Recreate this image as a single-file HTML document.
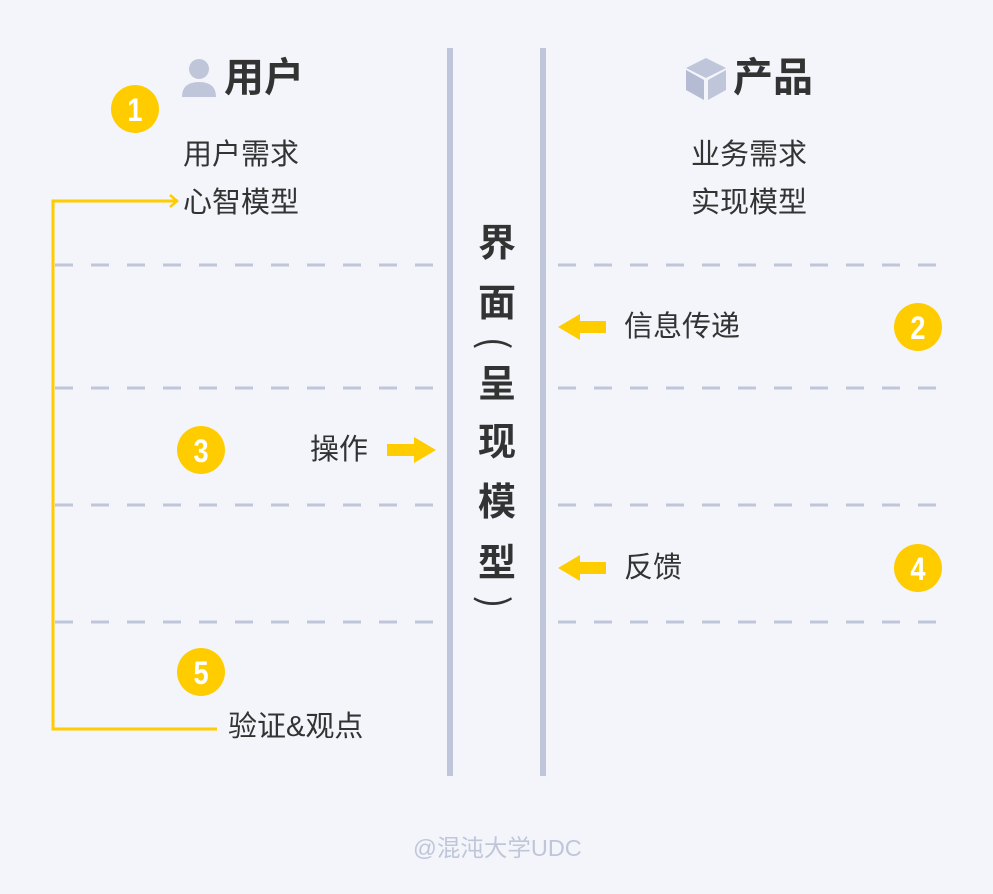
<!DOCTYPE html>
<html><head><meta charset="utf-8"><style>
body{margin:0;width:993px;height:894px;background:#f3f5fa;position:relative;overflow:hidden;font-family:"Liberation Sans","Noto Sans CJK SC",sans-serif;color:#333}
.t{position:absolute;font-size:29px;line-height:32px;white-space:nowrap;color:#333}
.v{position:absolute;left:477px;width:40px;text-align:center;font-size:38px;font-weight:bold;line-height:40px;color:#333}
.p{position:absolute;left:477px;width:40px;text-align:center;font-size:38px;line-height:40px;color:#333;font-family:"Noto Sans CJK SC",sans-serif;transform:rotate(90deg)}
.h{position:absolute;font-size:40px;font-weight:bold;line-height:44px;color:#333}
</style></head><body>
<svg width="993" height="894" style="position:absolute;left:0;top:0">
<g stroke="#c0c6da" stroke-width="3" stroke-dasharray="18 18">
<line x1="55" y1="265" x2="434" y2="265"/><line x1="55" y1="388" x2="434" y2="388"/><line x1="55" y1="505" x2="434" y2="505"/><line x1="55" y1="622" x2="434" y2="622"/>
<line x1="558" y1="265" x2="937" y2="265"/><line x1="558" y1="388" x2="937" y2="388"/><line x1="558" y1="505" x2="937" y2="505"/><line x1="558" y1="622" x2="937" y2="622"/>
</g>
<rect x="447" y="48" width="6" height="728" fill="#c0c6da"/>
<rect x="540" y="48" width="6" height="728" fill="#c0c6da"/>
<g fill="#ffcc00">
<circle cx="135" cy="109" r="24"/><circle cx="918" cy="327" r="24"/><circle cx="201" cy="450" r="24"/><circle cx="918" cy="568" r="24"/><circle cx="201" cy="672" r="24"/>
<polygon points="558,327 580,314 580,321 606,321 606,333 580,333 580,340"/>
<polygon points="558,568 580,555 580,562 606,562 606,574 580,574 580,581"/>
<polygon points="436,450 414,437 414,444 387,444 387,456 414,456 414,463"/>
</g>
<g fill="none" stroke="#ffcc00" stroke-width="3">
<polyline points="178,201 53,201 53,729 217,729"/>
<polyline points="170,195 177,201 170,207" stroke-width="2.5"/>
</g>
<g fill="#fff" font-family="Liberation Sans,sans-serif" font-weight="bold" font-size="32" text-anchor="middle" transform="scale(0.85,1)">
<text x="158.8" y="121">1</text><text x="1080" y="339">2</text><text x="236.5" y="462">3</text><text x="1080" y="580">4</text><text x="236.5" y="684">5</text>
</g>
<g fill="#c0c6da">
<circle cx="199" cy="69" r="10"/><path d="M182,97 Q182,82 199,82 Q216,82 216,97 Z"/>
<polygon points="706,58 726,68 706,78 686,68"/><polygon points="686,70 704,80 704,100 686,90" fill="#b4bbd2"/><polygon points="708,80 726,70 726,90 708,100"/>
</g>
</svg>
<div class="h" style="left:224px;top:56px">用户</div>
<div class="h" style="left:733px;top:56px">产品</div>
<div class="t" style="left:183px;top:139px">用户需求</div>
<div class="t" style="left:183px;top:187px">心智模型</div>
<div class="t" style="left:691px;top:139px">业务需求</div>
<div class="t" style="left:691px;top:187px">实现模型</div>
<div class="t" style="left:624px;top:311px">信息传递</div>
<div class="t" style="left:624px;top:552px">反馈</div>
<div class="t" style="left:310px;top:434px">操作</div>
<div class="t" style="left:228px;top:711px">验证&amp;观点</div>
<div class="v" style="top:224px">界</div>
<div class="v" style="top:284px">面</div>
<div class="p" style="top:323px">(</div>
<div class="v" style="top:365px">呈</div>
<div class="v" style="top:423px">现</div>
<div class="v" style="top:483px">模</div>
<div class="v" style="top:544px">型</div>
<div class="p" style="top:582px">)</div>
<div class="t" style="left:413px;top:832px;font-size:23.5px;color:#c0c6da">@混沌大学UDC</div>
</body></html>
